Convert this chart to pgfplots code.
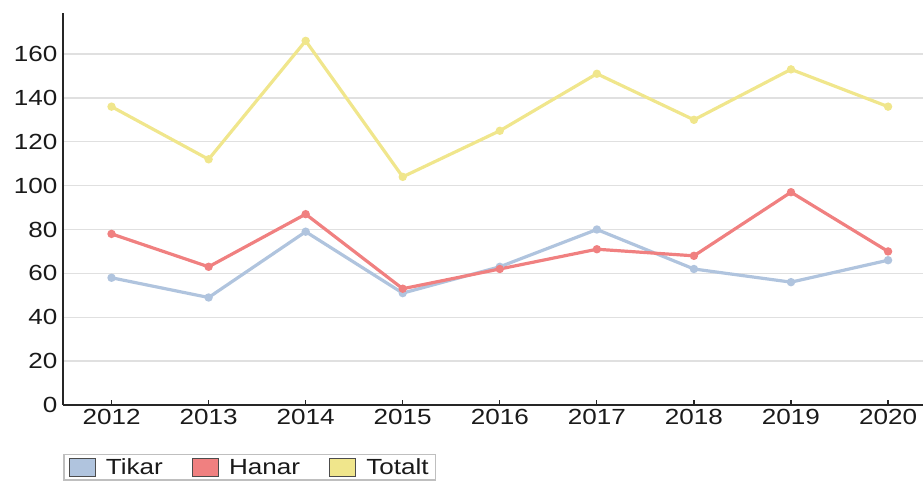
\documentclass[border=0pt]{standalone}
\usepackage{pgfplots}
\pgfplotsset{compat=1.18}
\usepackage{fontspec}
\setmainfont[FakeStretch=1.19]{Liberation Sans}
\definecolor{tikarc}{HTML}{B0C4DE}
\definecolor{hanarc}{HTML}{F08080}
\definecolor{totaltc}{HTML}{F0E68C}
\definecolor{txt}{HTML}{1A1A1A}
\begin{document}
\begin{tikzpicture}[x=1bp,y=1bp]
\path[use as bounding box] (0,0) rectangle (923,481);
\begin{axis}[
  at={(63bp,76bp)}, anchor=south west,
  scale only axis, width=860bp, height=392bp,
  xmin=2011.5, xmax=2020.36, ymin=0, ymax=178.7,
  axis lines*=left,
  axis line style={black!85, line width=1.6bp},
  xtick={2012,2013,...,2020},
  ytick={0,20,...,160},
  xtick pos=bottom, tick align=inside,
  major tick length=5bp,
  x tick style={black!85, line width=1.2bp},
  y tick style={draw=none},
  ymajorgrids, grid style={black!12, line width=1.4bp},
  tick label style={font=\fontsize{22}{24}\selectfont, text=txt},
  /pgf/number format/assume math mode=true,
  x tick label style={/pgf/number format/1000 sep={}, yshift=-1bp},
  y tick label style={xshift=-2bp},
  legend columns=3,
  legend style={at={(0,0)}, anchor=north west, yshift=-49bp,
    draw=black!25, line width=1.5bp, font=\fontsize{22}{24}\selectfont,
    text=txt, inner xsep=5bp, inner ysep=2bp,
    /tikz/every odd column/.append style={column sep=8bp},
    /tikz/every even column/.append style={column sep=27bp}},
  legend cell align=left,
]
\addplot[color=tikarc, line width=3.2bp, mark=*, mark size=2.5bp,
  legend image code/.code={\draw[fill=tikarc,draw=black!70,line width=1.2bp] (0bp,-9bp) rectangle (26bp,9bp);}]
  coordinates {(2012,58)(2013,49)(2014,79)(2015,51)(2016,63)(2017,80)(2018,62)(2019,56)(2020,66)};
\addlegendentry{Tikar}
\addplot[color=hanarc, line width=3.2bp, mark=*, mark size=2.5bp,
  legend image code/.code={\draw[fill=hanarc,draw=black!70,line width=1.2bp] (0bp,-9bp) rectangle (26bp,9bp);}]
  coordinates {(2012,78)(2013,63)(2014,87)(2015,53)(2016,62)(2017,71)(2018,68)(2019,97)(2020,70)};
\addlegendentry{Hanar}
\addplot[color=totaltc, line width=3.2bp, mark=*, mark size=2.5bp,
  legend image code/.code={\draw[fill=totaltc,draw=black!70,line width=1.2bp] (0bp,-9bp) rectangle (26bp,9bp);}]
  coordinates {(2012,136)(2013,112)(2014,166)(2015,104)(2016,125)(2017,151)(2018,130)(2019,153)(2020,136)};
\addlegendentry{Totalt}
\end{axis}
\end{tikzpicture}
\end{document}
